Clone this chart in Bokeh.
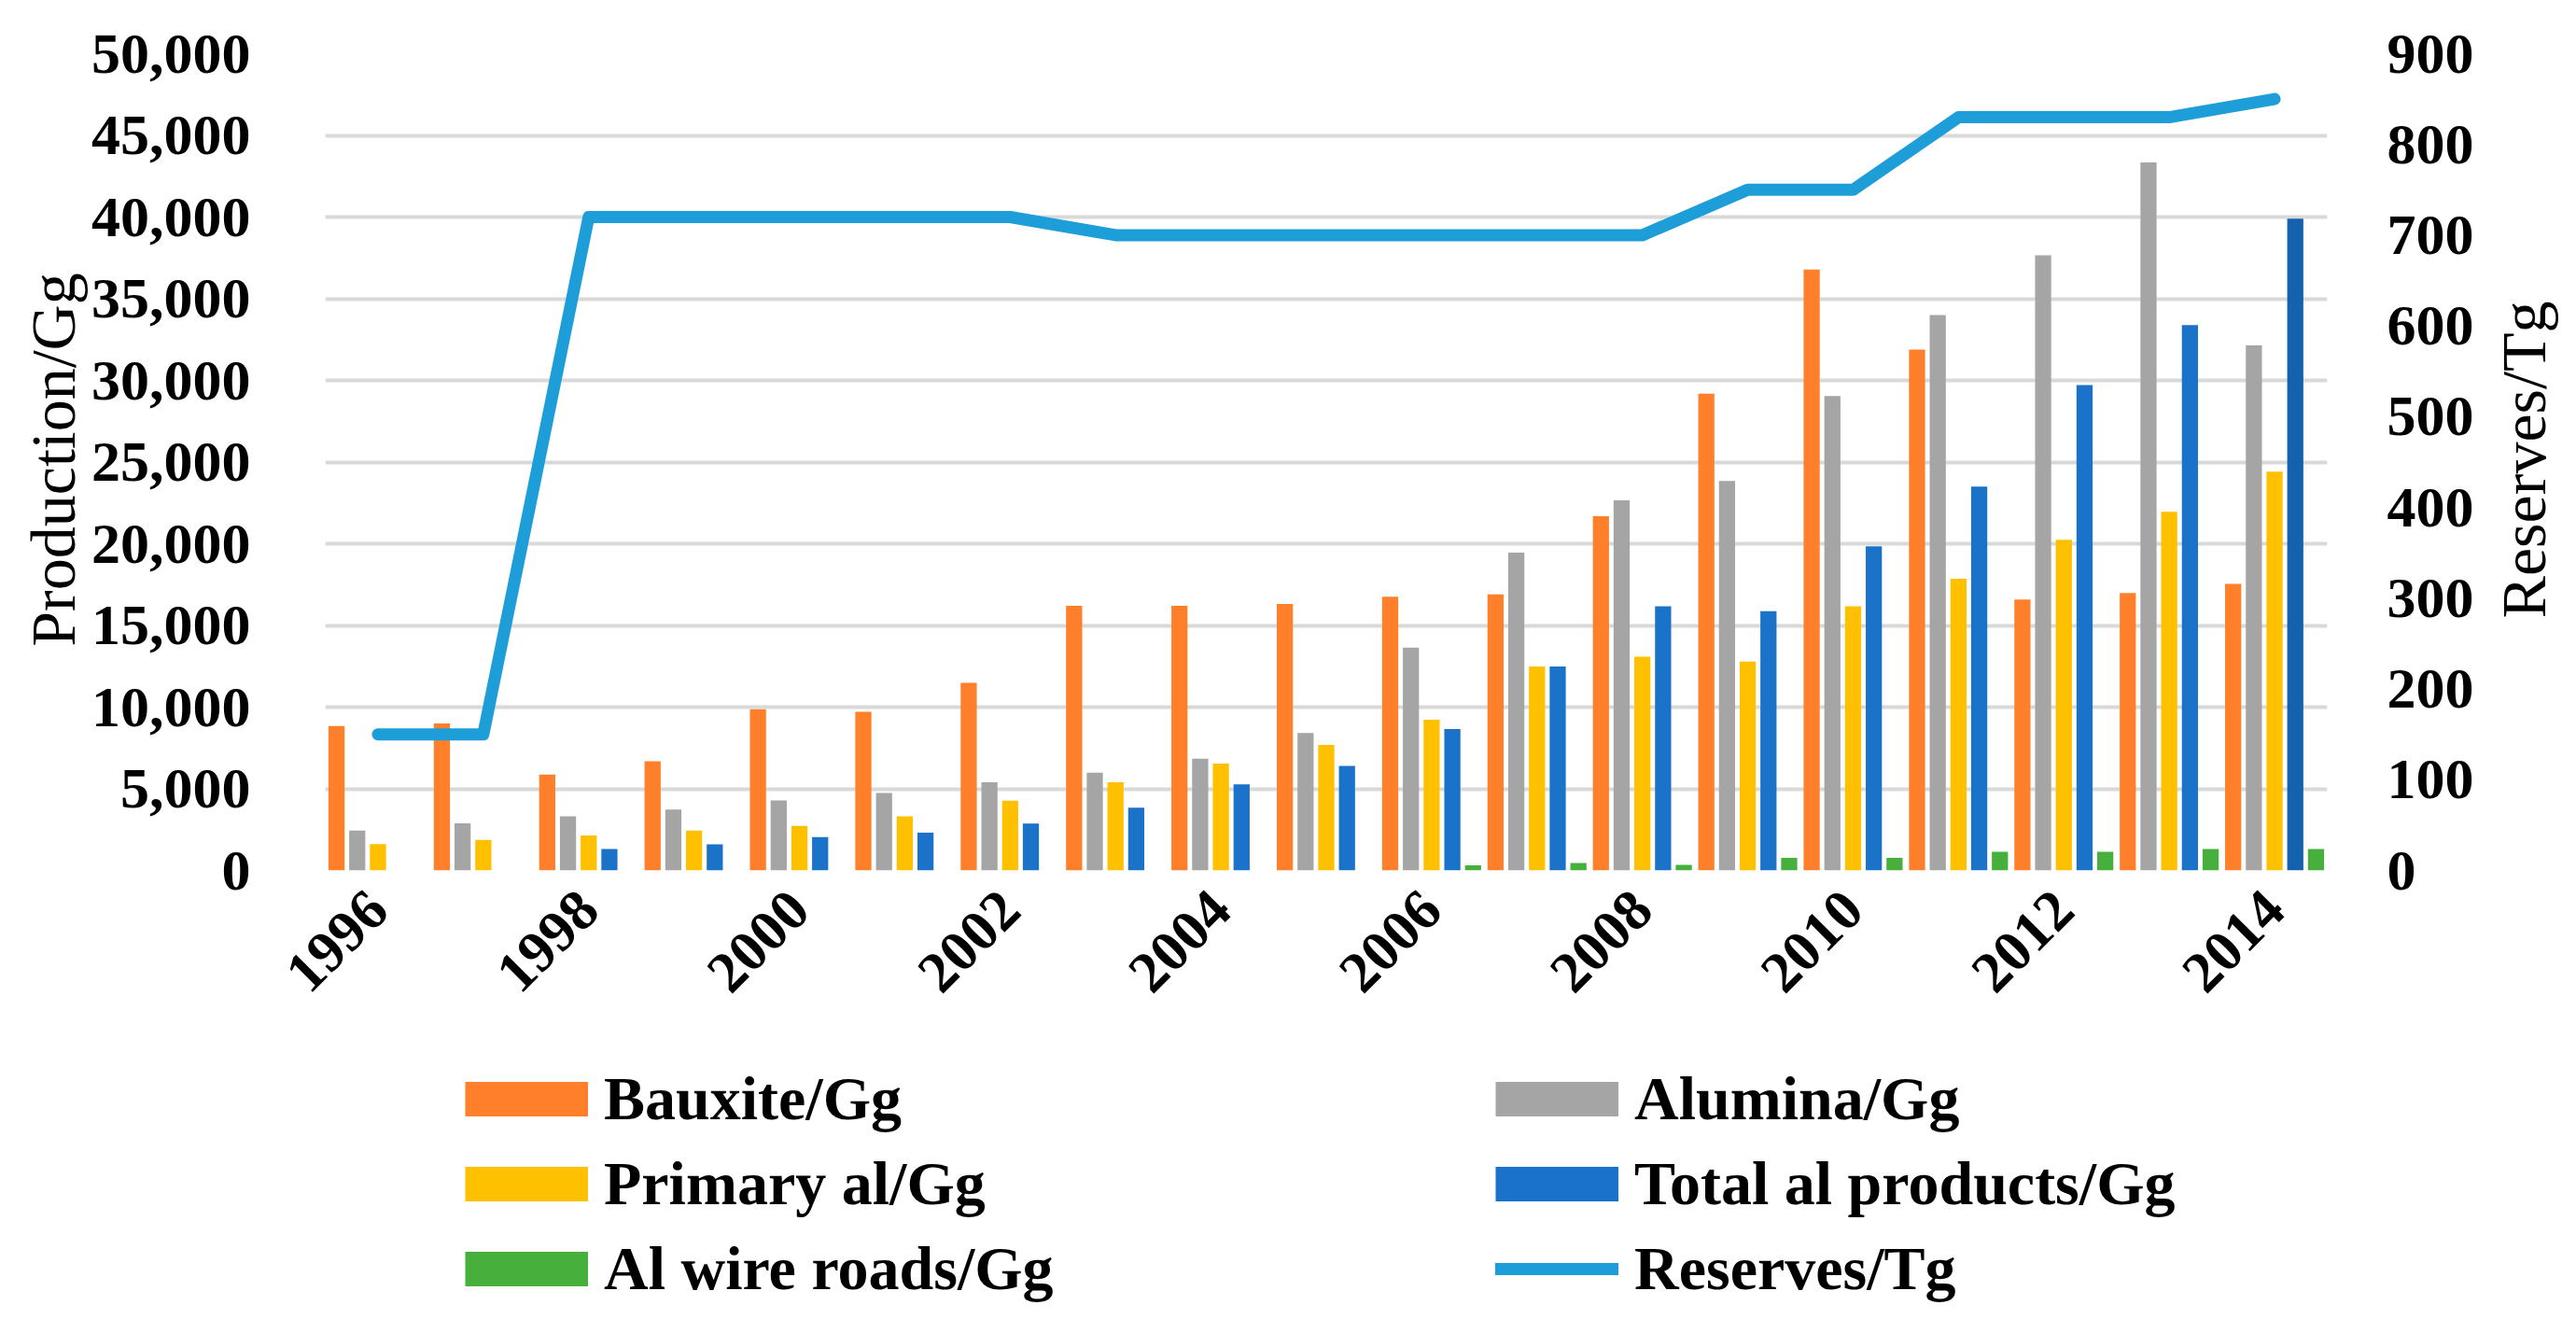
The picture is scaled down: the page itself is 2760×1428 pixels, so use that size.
import math
from bokeh.plotting import figure
from bokeh.layouts import column, row
from bokeh.models import (Range1d, LinearAxis, FixedTicker, NumeralTickFormatter,
                          Legend, LegendItem, ColumnDataSource, Label)
from bokeh.transform import dodge
from bokeh.embed import file_html
from bokeh.resources import INLINE

# ---------------- data ----------------
years = list(range(1996, 2015))
bauxite = [8850, 9000, 5870, 6690, 9870, 9710, 11490, 16200, 16200, 16320,
           16760, 16900, 21690, 29190, 36790, 31880, 16580, 16980, 17550]
alumina = [2440, 2890, 3310, 3730, 4290, 4750, 5400, 5980, 6840, 8410,
           13640, 19460, 22660, 23840, 29050, 34000, 37660, 43340, 32150]
primary_al = [1620, 1870, 2150, 2440, 2730, 3310, 4270, 5400, 6550, 7680,
              9230, 12490, 13080, 12780, 16170, 17860, 20240, 21960, 24410]
total_al = [0, 0, 1310, 1600, 2040, 2310, 2870, 3850, 5270, 6400,
            8660, 12490, 16170, 15870, 19840, 23500, 29720, 33390, 39900]
wire_rods = [0, 0, 0, 0, 0, 0, 0, 0, 0, 0,
             310, 460, 340, 770, 770, 1140, 1140, 1310, 1310]
reserves = [150, 150, 720, 720, 720, 720, 720, 700, 700, 700,
            700, 700, 700, 750, 750, 830, 830, 830, 850]
x_ticks = [1996, 1998, 2000, 2002, 2004, 2006, 2008, 2010, 2012, 2014]
left_ticks = list(range(0, 50001, 5000))
right_ticks = list(range(0, 901, 100))
names = ["Bauxite/Gg", "Alumina/Gg", "Primary al/Gg", "Total al products/Gg",
         "Al wire roads/Gg", "Reserves/Tg"]
left_title = "Production/Gg"
right_title = "Reserves/Tg"

# ---------------- styles ----------------
C_BAUX = "#FF7F2A"
C_ALU = "#A5A5A5"
C_PRIM = "#FFC000"
C_TOT = "#1A73C8"
C_TOT_LAST = "#1461AE"
C_WIRE = "#47AF3C"
C_RES = "#1E9ED8"
FONT = "Liberation Serif"

tot_colors = [C_TOT] * (len(years) - 1) + [C_TOT_LAST]

src = ColumnDataSource(dict(year=years, bauxite=bauxite, alumina=alumina,
                            primary=primary_al, total=total_al, wire=wire_rods,
                            reserves=reserves, tot_color=tot_colors))

TOTAL_W = 2744
LT_W = 94
RT_W = 82
MAIN_H = 1132
MAIN_W = TOTAL_W - LT_W - RT_W
FRAME_TOP = 57
FRAME_BOTTOM = 932

p = figure(width=MAIN_W, height=MAIN_H,
           x_range=Range1d(1995.5, 2014.5), y_range=Range1d(0, 50000),
           output_backend="svg", toolbar_location=None,
           min_border_left=347 - LT_W, min_border_right=169,
           min_border_top=FRAME_TOP, min_border_bottom=MAIN_H - FRAME_BOTTOM)
p.outline_line_color = None

BW = 0.153
PITCH = 0.1966
p.vbar(x=dodge("year", -2 * PITCH, range=p.x_range), top="bauxite", width=BW,
       source=src, fill_color=C_BAUX, line_color=None)
p.vbar(x=dodge("year", -PITCH, range=p.x_range), top="alumina", width=BW,
       source=src, fill_color=C_ALU, line_color=None)
p.vbar(x=dodge("year", 0, range=p.x_range), top="primary", width=BW,
       source=src, fill_color=C_PRIM, line_color=None)
p.vbar(x=dodge("year", PITCH, range=p.x_range), top="total", width=BW,
       source=src, fill_color="tot_color", line_color=None)
p.vbar(x=dodge("year", 2 * PITCH, range=p.x_range), top="wire", width=BW,
       source=src, fill_color=C_WIRE, line_color=None)

p.extra_y_ranges = {"res": Range1d(0, 900)}
p.line("year", "reserves", source=src, y_range_name="res",
       line_width=13, line_color=C_RES, line_cap="round", line_join="round")

# grid
p.xgrid.visible = False
p.ygrid.ticker = FixedTicker(ticks=left_ticks)
p.ygrid.grid_line_color = "#D9D9D9"
p.ygrid.grid_line_width = 4

def style_axis(ax, standoff):
    ax.axis_line_color = None
    ax.major_tick_line_color = None
    ax.minor_tick_line_color = None
    ax.major_tick_out = 0
    ax.major_tick_in = 0
    ax.major_label_standoff = standoff
    ax.major_label_text_font = FONT
    ax.major_label_text_font_style = "bold"
    ax.major_label_text_font_size = "62px"
    ax.major_label_text_color = "black"

xa = p.xaxis[0]
xa.ticker = FixedTicker(ticks=x_ticks)
xa.major_label_orientation = math.pi / 4
style_axis(xa, 32)

ya = p.yaxis[0]
ya.ticker = FixedTicker(ticks=left_ticks)
ya.formatter = NumeralTickFormatter(format="0,0")
style_axis(ya, 80)

ra = LinearAxis(y_range_name="res", ticker=FixedTicker(ticks=right_ticks))
style_axis(ra, 64)
p.add_layout(ra, "right")

# ---- side strips holding the two axis titles (both read bottom to top) ----
# In the row the strips' frames line up with the chart frame, so screen y is
# measured upward from the chart's bottom edge.
TITLE_Y = FRAME_BOTTOM - 492

def title_strip(width, text, cx):
    f = figure(width=width, height=MAIN_H, x_range=Range1d(0, 1), y_range=Range1d(0, 1),
               x_axis_type=None, y_axis_type=None, output_backend="svg",
               toolbar_location=None, min_border=0)
    f.outline_line_color = None
    f.grid.visible = False
    f.add_layout(Label(x=cx, y=TITLE_Y, x_units="screen", y_units="screen",
                       text=text, angle=math.pi / 2, text_align="center",
                       text_baseline="middle", text_font=FONT,
                       text_font_size="68px", text_color="black"))
    return f

p_lt = title_strip(LT_W, left_title, 56)
p_rt = title_strip(RT_W, right_title, 41)

# ---- legend strip below the chart ----
LEG_H = 1412 - MAIN_H
p_leg = figure(width=TOTAL_W, height=LEG_H, x_range=Range1d(0, 1), y_range=Range1d(0, 1),
               x_axis_type=None, y_axis_type=None, output_backend="svg",
               toolbar_location=None, min_border=0)
p_leg.outline_line_color = None
p_leg.grid.visible = False

def swatch(color, width, cap):
    # legend-only renderer: its two points lie outside the visible range
    return p_leg.line(x=[-3, -2], y=[-3, -2], line_color=color,
                      line_width=width, line_cap=cap)

sw = [swatch(C_BAUX, 37, "butt"), swatch(C_ALU, 37, "butt"),
      swatch(C_PRIM, 37, "butt"), swatch(C_TOT, 37, "butt"),
      swatch(C_WIRE, 37, "butt"), swatch(C_RES, 13, "round")]

def make_legend(idx, loc):
    lg = Legend(items=[LegendItem(label=names[i], renderers=[sw[i]]) for i in idx],
                location=loc, orientation="vertical",
                glyph_width=132, glyph_height=76, label_standoff=17,
                spacing=15, padding=0, margin=0, label_height=76,
                border_line_color=None, background_fill_alpha=0)
    lg.label_text_font = FONT
    lg.label_text_font_style = "bold"
    lg.label_text_font_size = "66px"
    lg.label_text_color = "black"
    return lg

p_leg.add_layout(make_legend([0, 2, 4], (498, 15)), "center")
p_leg.add_layout(make_legend([1, 3, 5], (1602, 15)), "center")

layout = column(row(p_lt, p, p_rt), p_leg)
open("out.html", "w").write(file_html(layout, INLINE))
